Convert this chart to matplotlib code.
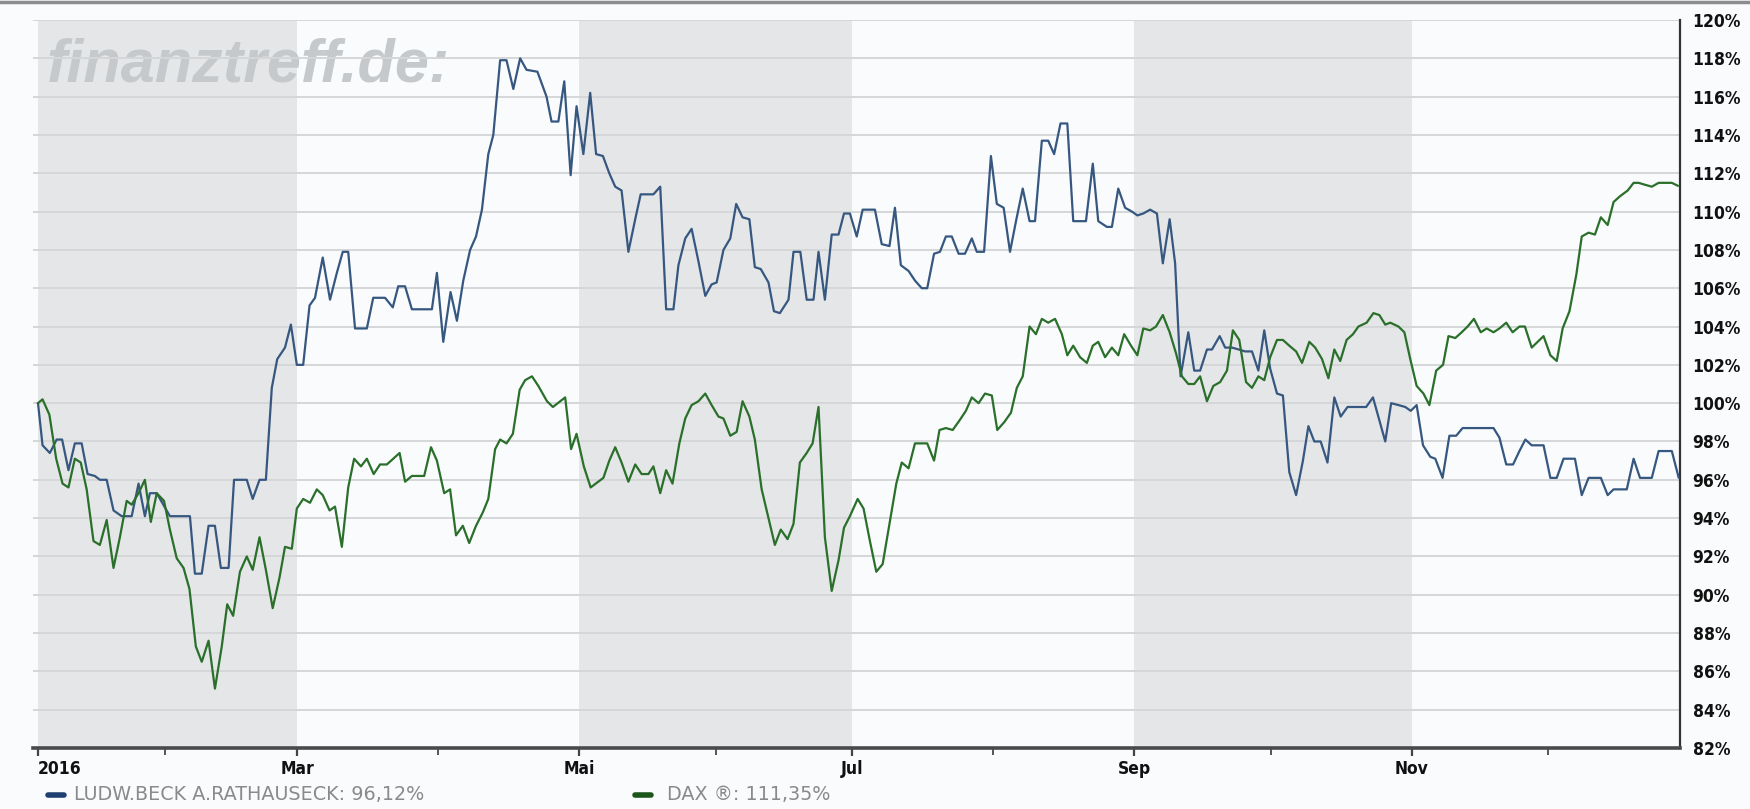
import matplotlib
matplotlib.use("Agg")
import matplotlib.pyplot as plt
import pandas as pd
from matplotlib.lines import Line2D

# ---------------- data ----------------
start_date = "2016-01-04"

blue_name = "LUDW.BECK A.RATHAUSECK: 96,12%"
green_name = "DAX \u00ae: 111,35%"

# days since start_date
blue_day = [0, 1.0, 2.6, 4.1, 5.3, 6.7, 8.1, 9.6, 10.9, 12.5, 13.6, 15.1, 16.6, 18.4, 20.6, 22.1, 23.5, 24.6, 26.1, 29.0,
            33.4, 34.5, 36.0, 37.5, 38.9, 40.2, 41.9, 43.1, 45.9, 47.2, 48.7, 50.1, 51.4, 52.6, 54.3, 55.6, 56.9, 58.3,
            59.7, 60.9, 62.6, 64.2, 65.7, 67.0, 68.2, 69.7, 72.3, 73.7, 76.3, 78.0, 79.2, 80.7, 82.2, 86.6, 87.7, 89.1,
            90.7, 92.1, 93.5, 95.0, 96.3, 97.6, 99.0, 100.1, 101.6, 103.0, 104.5, 106.0, 107.4, 109.8, 111.8, 112.9,
            114.4, 115.7, 117.1, 118.4,
            119.9, 121.4, 122.7, 124.2, 125.6, 126.9, 128.3, 129.8, 131.3, 132.5, 135.3, 136.8, 138.1, 139.7, 140.8,
            142.3, 143.7, 145.2, 146.7, 148.1, 149.2, 150.7, 152.2, 153.5, 154.9, 156.4, 157.6, 158.9, 160.6, 161.8,
            163.1, 165.0, 166.1, 167.6, 169.0, 170.5, 171.6, 173.0, 174.5, 176.0,
            177.2, 178.5, 180.0, 181.3, 184.0, 185.5, 187.2, 188.4, 189.7, 191.4, 192.8, 194.3, 195.5, 197.0, 198.3,
            199.6, 200.9, 202.4, 203.8, 205.3, 206.4, 208.0, 209.5, 210.8, 212.3, 213.7, 215.1, 216.5, 218.0, 219.2,
            220.7, 222.1, 223.4, 224.8, 226.3, 227.6, 230.4, 231.9, 233.1, 235.0, 236.1, 237.5,
            239.0, 240.5, 241.7, 243.0, 244.5, 246.0, 247.3, 248.8, 250.0, 251.2, 252.9, 254.2, 255.5, 257.0, 258.1,
            259.8, 261.0, 262.5, 264.0, 265.4, 266.9, 268.3, 269.6, 270.9, 272.4, 273.7, 275.1, 276.6, 278.1, 279.3,
            280.6, 282.0, 283.5, 285.0, 286.4, 287.9, 292.0, 293.5, 294.9, 296.2, 297.5,
            299.1, 300.6, 301.8, 303.1, 304.5, 306.1, 307.2, 308.8, 310.3, 311.8, 313.2, 320.0, 321.3, 322.8, 324.3,
            325.7, 327.0, 328.4, 331.0, 332.5, 333.9, 335.4, 337.9, 339.4, 340.9, 343.6, 345.1, 346.4, 349.3, 350.8,
            352.2, 354.8, 356.3, 359.2, 360.7]
blue_val = [100.0, 97.8, 97.4, 98.1, 98.1, 96.5, 97.9, 97.9, 96.3, 96.2, 96.0, 96.0, 94.4, 94.1, 94.1, 95.8, 94.1, 95.3,
            95.3, 94.1, 94.1, 91.1, 91.1, 93.6, 93.6, 91.4, 91.4, 96.0, 96.0, 95.0, 96.0, 96.0, 100.8, 102.3, 102.9,
            104.1, 102.0, 102.0,
            105.1, 105.5, 107.6, 105.4, 106.8, 107.9, 107.9, 103.9, 103.9, 105.5, 105.5, 105.0, 106.1, 106.1, 104.9,
            104.9, 106.8, 103.2, 105.8, 104.3, 106.4, 108.0, 108.7, 110.1, 113.0, 114.0, 117.9, 117.9, 116.4, 118.0,
            117.4, 117.3, 116.0, 114.7, 114.7, 116.8, 111.9, 115.5,
            113.0, 116.2, 113.0, 112.9, 112.0, 111.3, 111.1, 107.9, 109.6, 110.9, 110.9, 111.3, 104.9, 104.9, 107.2,
            108.6, 109.1, 107.4, 105.6, 106.2, 106.3, 108.0, 108.6, 110.4, 109.7, 109.6, 107.1, 107.0, 106.3, 104.8,
            104.7, 105.4, 107.9, 107.9, 105.4, 105.4, 107.9, 105.4, 108.8, 108.8,
            109.9, 109.9, 108.7, 110.1, 110.1, 108.3, 108.2, 110.2, 107.2, 106.9, 106.4, 106.0, 106.0, 107.8, 107.9,
            108.7, 108.7, 107.8, 107.8, 108.6, 107.9, 107.9, 112.9, 110.4, 110.2, 107.9, 109.6, 111.2, 109.5, 109.5,
            113.7, 113.7, 113.0, 114.6, 114.6, 109.5, 109.5, 112.5, 109.5, 109.2, 109.2, 111.2,
            110.2, 110.0, 109.8, 109.9, 110.1, 109.9, 107.3, 109.6, 107.3, 101.4, 103.7, 101.7, 101.7, 102.8, 102.8,
            103.5, 102.9, 102.9, 102.8, 102.7, 102.7, 101.7, 103.8, 101.8, 100.5, 100.4, 96.4, 95.2, 97.0, 98.8,
            98.0, 98.0, 96.9, 100.3, 99.3, 99.8, 99.8, 100.3, 99.1, 98.0, 100.0,
            99.9, 99.8, 99.6, 99.9, 97.8, 97.2, 97.1, 96.1, 98.3, 98.3, 98.7, 98.7, 98.2, 96.8, 96.8,
            97.5, 98.1, 97.8, 97.8, 96.1, 96.1, 97.1, 97.1, 95.2, 96.1, 96.1, 95.2, 95.5, 95.5, 97.1,
            96.1, 96.1, 97.5, 97.5, 96.12]

green_day = [0, 1.0, 2.5, 4.0, 5.4, 6.7, 8.1, 9.4, 10.7, 12.2, 13.6, 15.1, 16.6, 18.0, 19.5, 20.6, 22.1, 23.5, 24.8,
             26.1, 27.7, 29.0, 30.5, 32.0, 33.3, 34.7, 36.0, 37.5, 38.9, 40.4, 41.6, 42.9, 44.4, 45.9, 47.2, 48.7,
             50.1, 51.6, 53.1, 54.3, 55.8, 56.9, 58.3, 59.8,
             61.3, 62.6, 64.1, 65.3, 66.8, 68.2, 69.5, 71.0, 72.3, 73.8, 75.2, 76.7, 78.1, 79.5, 80.7, 82.2, 84.9,
             86.4, 87.7, 89.3, 90.6, 91.9, 93.4, 94.8, 96.3, 97.8, 99.0, 100.5, 101.6, 103.0, 104.4, 105.9, 107.1,
             108.6, 110.0, 111.9, 113.2, 115.9, 117.2, 118.4,
             120.0, 121.5, 124.3, 125.6, 126.9, 128.3, 129.8, 131.3, 132.7, 134.2, 135.3, 136.8, 138.1, 139.5, 141.0,
             142.3, 143.7, 145.2, 146.7, 148.1, 149.6, 150.7, 152.2, 153.6, 154.9, 156.4, 157.6, 159.1, 160.6, 162.0,
             163.3, 164.8, 166.1, 167.5, 169.0, 170.3, 171.6, 173.0, 174.5, 176.0, 177.2, 178.5,
             180.2, 181.5, 182.9, 184.3, 185.7, 187.2, 188.7, 189.9, 191.4, 192.8, 195.5, 197.0, 198.2, 199.6, 201.1,
             202.6, 204.0, 205.3, 206.8, 208.2, 209.7, 210.9, 212.4, 213.9, 215.2, 216.5, 218.0, 219.4, 220.7, 222.1,
             223.6, 225.1, 226.3, 227.6, 229.1, 230.6, 231.9, 233.1, 234.6, 236.1, 237.5,
             238.8, 240.3, 241.7, 243.0, 244.5, 245.8, 247.3, 248.8, 250.2, 251.5, 252.9, 254.2, 255.5, 257.0, 258.4,
             259.9, 261.4, 262.7, 264.1, 265.6, 266.9, 268.3, 269.6, 270.9, 272.4, 273.7, 275.1, 276.6, 277.9, 279.5,
             280.8, 282.3, 283.7, 285.0, 286.3, 287.7, 289.1, 290.3, 292.1, 293.6, 294.9, 296.2, 297.3,
             299.1, 300.4, 301.7, 303.1, 304.6, 305.9, 307.4, 308.9, 310.1, 311.6, 313.0, 314.3, 315.7, 317.2, 318.5,
             320.0, 321.3, 322.8, 324.2, 325.7, 326.9, 328.4, 329.7, 331.0, 332.5, 333.9, 335.2, 336.7, 338.2, 339.4,
             340.9, 342.3, 343.6, 345.1, 346.4, 347.8, 349.5, 350.8, 351.9, 353.3, 354.8, 356.3, 357.7, 359.2, 360.5]
green_val = [100.0, 100.2, 99.4, 97.1, 95.8, 95.6, 97.1, 96.9, 95.5, 92.8, 92.6, 93.9, 91.4, 93.0, 94.9, 94.7, 95.3,
             96.0, 93.8, 95.3, 94.9, 93.4, 91.9, 91.4, 90.3, 87.3, 86.5, 87.6, 85.1, 87.3, 89.5, 88.9, 91.2, 92.0,
             91.3, 93.0, 91.3, 89.3, 90.9, 92.5, 92.4, 94.5, 95.0, 94.8,
             95.5, 95.2, 94.4, 94.6, 92.5, 95.6, 97.1, 96.7, 97.1, 96.3, 96.8, 96.8, 97.1, 97.4, 95.9, 96.2, 96.2,
             97.7, 97.0, 95.3, 95.5, 93.1, 93.6, 92.7, 93.6, 94.3, 95.0, 97.6, 98.1, 97.9, 98.4, 100.7, 101.2,
             101.4, 100.9, 100.1, 99.8, 100.3, 97.6, 98.4,
             96.7, 95.6, 96.1, 97.0, 97.7, 96.9, 95.9, 96.8, 96.3, 96.3, 96.7, 95.3, 96.5, 95.8, 97.9,
             99.2, 99.9, 100.1, 100.5, 99.9, 99.3, 99.2, 98.3, 98.5, 100.1, 99.3, 98.1, 95.5, 94.0, 92.6,
             93.4, 92.9, 93.7, 96.9, 97.4, 97.9, 99.8, 93.0, 90.2, 91.8, 93.5, 94.1,
             95.0, 94.5, 92.8, 91.2, 91.6, 93.7, 95.8, 96.9, 96.6, 97.9, 97.9, 97.0, 98.6, 98.7, 98.6,
             99.1, 99.6, 100.3, 100.0, 100.5, 100.4, 98.6, 99.0, 99.5, 100.8, 101.4, 104.0, 103.6, 104.4, 104.2,
             104.4, 103.6, 102.5, 103.0, 102.4, 102.1, 103.0, 103.2, 102.4, 102.9, 102.5,
             103.6, 103.0, 102.5, 103.9, 103.8, 104.0, 104.6, 103.7, 102.6, 101.4, 101.0, 101.0, 101.4, 100.1, 100.9,
             101.1, 101.7, 103.8, 103.3, 101.1, 100.8, 101.4, 101.2, 102.4, 103.3, 103.3, 103.0, 102.7, 102.1, 103.2,
             102.9, 102.3, 101.3, 102.8, 102.2, 103.3, 103.6, 104.0, 104.2, 104.7, 104.6, 104.1, 104.2,
             104.0, 103.7, 102.3, 100.9, 100.5, 99.9, 101.7, 102.0, 103.5, 103.4, 103.7, 104.0, 104.4, 103.7, 103.9,
             103.7, 103.9, 104.2, 103.7, 104.0, 104.0, 102.9, 103.2, 103.5, 102.5, 102.2, 103.9, 104.8, 106.7, 108.7,
             108.9, 108.8, 109.7, 109.3, 110.5, 110.8, 111.1, 111.5, 111.5, 111.4, 111.3, 111.5, 111.5, 111.5, 111.35]

month_ticks = ["2016-01-04", "2016-03-01", "2016-05-02", "2016-07-01", "2016-09-01", "2016-11-01"]
month_labels = ["2016", "Mar", "Mai", "Jul", "Sep", "Nov"]
minor_ticks = ["2016-02-01", "2016-04-01", "2016-06-01", "2016-08-01", "2016-10-01", "2016-12-01"]
band_ranges = [("2016-01-04", "2016-03-01"), ("2016-05-02", "2016-07-01"), ("2016-09-01", "2016-11-01")]
y_ticks = list(range(82, 121, 2))
watermark = "finanztreff.de:"

# ---------------- style ----------------
BG = "#f9fbfd"
BAND = "#e4e6e8"
GRID = "#d5d6d8"
BLUE = "#365780"
GREEN = "#2a6f2a"
LEG_BLUE = "#1f3f72"
LEG_GREEN = "#1a561a"

W, H = 1750, 809
fig = plt.figure(figsize=(W / 100, H / 100), dpi=100)
fig.patch.set_facecolor(BG)

ax_left, ax_right, ax_top, ax_bottom = 33, 1680, 20, 748
ax = fig.add_axes([ax_left / W, 1 - ax_bottom / H, (ax_right - ax_left) / W, (ax_bottom - ax_top) / H])
ax.set_facecolor(BG)

t0 = pd.Timestamp(start_date)
bx = t0 + pd.to_timedelta(blue_day, unit="D")
gx = t0 + pd.to_timedelta(green_day, unit="D")

for a, b in band_ranges:
    ax.axvspan(pd.Timestamp(a), pd.Timestamp(b), facecolor=BAND, edgecolor="none", zorder=0.1)

ax.plot(bx, blue_val, color=BLUE, lw=1.6, zorder=3, solid_joinstyle="round")
ax.plot(gx, green_val, color=GREEN, lw=1.6, zorder=3, solid_joinstyle="round")

ax.set_xlim(t0 - pd.Timedelta(days=1.1), t0 + pd.Timedelta(days=361.0))
ax.set_ylim(82, 120)

# y axis on the right
ax.yaxis.tick_right()
ax.set_yticks(y_ticks)
ax.set_yticklabels([f"{v}%" for v in y_ticks], fontsize=12.5, fontweight="bold",
                   fontstretch="condensed", color="#111111")
ax.tick_params(axis="y", length=0, pad=9)
ax.set_axisbelow(True)
ax.yaxis.grid(True, color=GRID, lw=1.4)

# x axis
ax.set_xticks([pd.Timestamp(d) for d in month_ticks])
ax.set_xticklabels(month_labels, fontsize=12.5, fontweight="bold", fontstretch="condensed", color="#111111")
ax.get_xticklabels()[0].set_horizontalalignment("left")
ax.set_xticks([pd.Timestamp(d) for d in minor_ticks], minor=True)
ax.tick_params(axis="x", which="major", length=6, width=1.6, color="#444444", pad=3, direction="out")
ax.tick_params(axis="x", which="minor", length=5, width=1.4, color="#555555", direction="out")

for s in ("top", "left"):
    ax.spines[s].set_visible(False)
ax.spines["right"].set_color("#333333")
ax.spines["right"].set_linewidth(1.6)
ax.spines["bottom"].set_color("#4a4a4a")
ax.spines["bottom"].set_linewidth(2.6)

# watermark (behind grid)
ax.text(47 / W, 1 - 82 / H, watermark, transform=fig.transFigure, fontsize=44, fontweight="bold",
        fontstyle="italic", family=["Liberation Sans", "DejaVu Sans"], color="#c6c9cc",
        va="baseline", ha="left", zorder=0.3)

# top frame line
fig.add_artist(Line2D([0, 1], [1 - 2 / H, 1 - 2 / H], transform=fig.transFigure, color="#8c8c8c", lw=2.5))

# legend at bottom
ly = 1 - 795 / H
fig.add_artist(Line2D([48 / W, 64 / W], [ly, ly], transform=fig.transFigure, color=LEG_BLUE, lw=4,
                      solid_capstyle="round"))
fig.text(74 / W, ly, blue_name, fontsize=13.8, color="#8a8a8a", va="center", ha="left")
fig.add_artist(Line2D([635 / W, 651 / W], [ly, ly], transform=fig.transFigure, color=LEG_GREEN, lw=4,
                      solid_capstyle="round"))
fig.text(667 / W, ly, green_name, fontsize=13.8, color="#8a8a8a", va="center", ha="left")

fig.savefig("out.png", dpi=100, facecolor=BG)
